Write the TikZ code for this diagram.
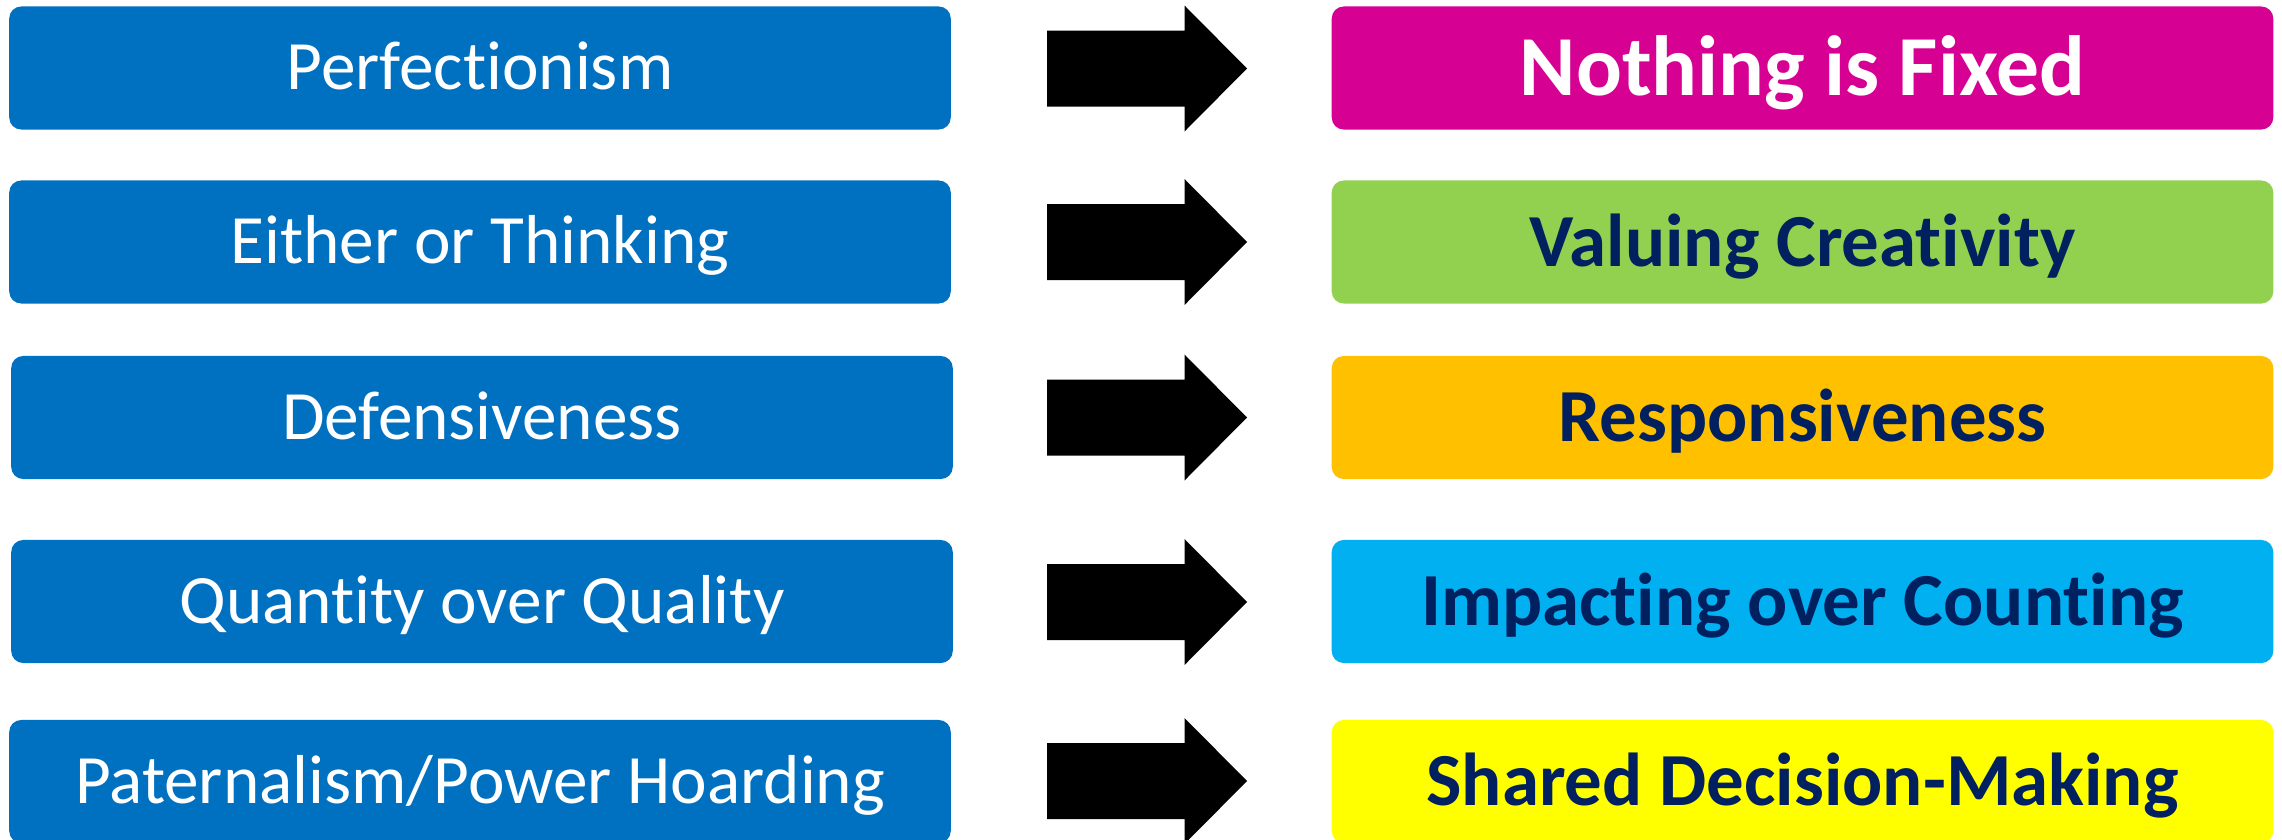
\documentclass[tikz,border=0pt]{standalone}
\usepackage{fontspec}
\setmainfont[Ligatures=NoCommon]{Carlito}
\usepackage{tikz}
\usepackage{xcolor}
\definecolor{boxblue}{HTML}{0070C0}
\definecolor{fixpink}{HTML}{D60093}
\definecolor{creagreen}{HTML}{92D050}
\definecolor{respgold}{HTML}{FFC000}
\definecolor{impblue}{HTML}{00B0F0}
\definecolor{sharedyellow}{HTML}{FFFF00}
\definecolor{navytext}{HTML}{002060}
\tikzset{
   oldbox/.style={
      fill=boxblue, rounded corners=0.12cm, inner sep=0pt,
      minimum width=9.41cm, minimum height=1.23cm,
      text=white, text height=0.43cm, text depth=0pt,
      font=\fontsize{19.7}{23}\selectfont},
   newbox/.style={
      fill=#1, rounded corners=0.12cm, inner sep=0pt,
      minimum width=9.41cm, minimum height=1.23cm,
      text=navytext, text height=0.48cm, text depth=0pt,
      font=\fontsize{21.3}{26}\selectfont\bfseries},
   bigbox/.style={
      newbox=#1, text=white, text height=0.55cm,
      font=\fontsize{24.3}{29}\selectfont\bfseries},
   blockarrow/.pic={
      \fill[black] (0,-38) -- (137.5,-38) -- (137.5,-63) -- (200,0)
         -- (137.5,63) -- (137.5,38) -- (0,38) -- cycle;},
    }
\begin{document}
\begin{tikzpicture}[x=0.01cm, y=-0.01cm]
            \useasboundingbox (0,0) rectangle (2282,839);
            \node[oldbox] (perf) at (480,68) {Perfectionism};
            \node[oldbox] (either) at (480,242) {Either or Thinking};
            \node[oldbox] (defens) at (482,417.5) {Defensiveness};
            \node[oldbox] (quant) at (482,601.5) {Quantity over Quality};
            \node[oldbox] (patern) at (480,781.5) {Paternalism/Power Hoarding};
            \node[bigbox=fixpink] (fixed) at (1802.5,68) {Nothing is Fixed};
            \node[newbox=creagreen] (creat) at (1802.5,242) {Valuing Creativity};
            \node[newbox=respgold] (respon) at (1802.5,417.5) {Responsiveness};
            \node[newbox=impblue] (impact) at (1802.5,601.5) {Impacting over Counting};
            \node[newbox=sharedyellow] (shared) at (1802.5,781.5) {Shared Decision-Making};
            \foreach \y in {68.5,242,417.5,602,781}
               \pic at (1047,\y) {blockarrow};
        \end{tikzpicture}
\end{document}
